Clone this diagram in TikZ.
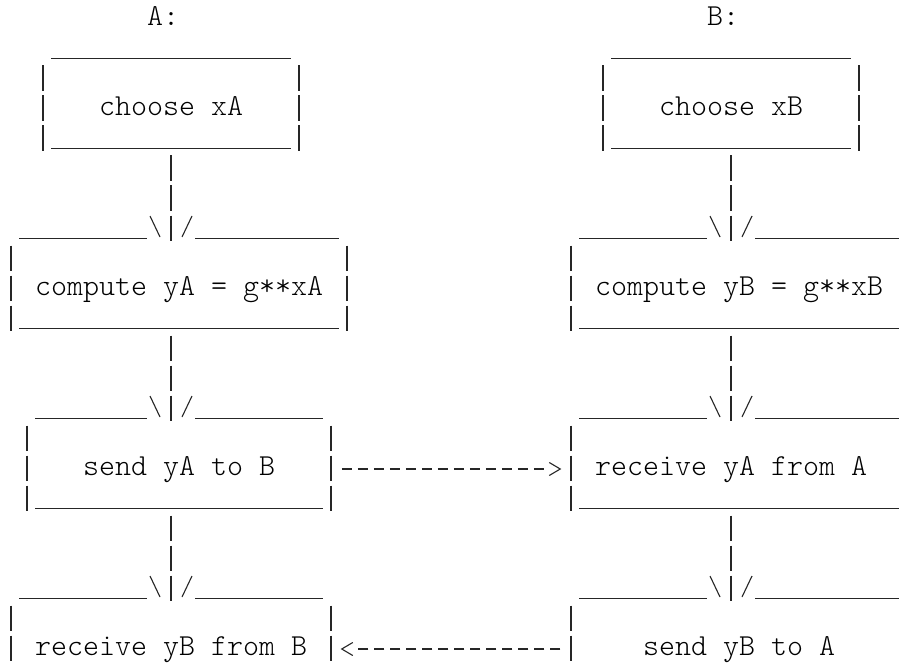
\documentclass[tikz,border=0pt]{standalone}
\usepackage{fontspec}
\newfontfamily\lightmono{Latin Modern Mono Light}
\newcommand\Lx[1]{(16*(#1)+3)}
\newcommand\Rx[1]{(16*(#1)+19)}
\newcommand\Cx[1]{(16*(#1)+11)}
\newcommand\Uy[1]{(28.5+30*(#1))}
\newcommand\By[1]{(25.5+30*(#1))}
\newcommand\Pt[1]{(5.5+30*(#1))}
\newcommand\Pb[1]{(31+30*(#1))}
\newcommand\asciifont{\lightmono\fontsize{30.48pt}{36pt}\selectfont}
\newcommand\asciiU[3]{\draw[ln] ({\Lx{#1}},{\Uy{#3}}) -- ({\Rx{#2}},{\Uy{#3}});}
\newcommand\asciiP[3]{\draw[pipe] ({\Cx{#1}},{\Pt{#2}}) -- ({\Cx{#1}},{\Pb{#3}});}
\begin{document}
\begin{tikzpicture}[x=1pt,y=-1pt,
  ln/.style={line width=1.1pt,draw=black!85},
  pipe/.style={ln,dash pattern=on 25.5pt off 4.5pt},
  dsh/.style={ln,dash pattern=on 10.5pt off 5.5pt},
  lbl/.style={inner sep=0pt,anchor=base west,font=\asciifont},
  vhead/.pic={\draw[ln] (-21,-25) -- (-11,-4); \draw[ln] (11,-4) -- (21,-25);}
]
\fill[white] (0,0) rectangle (899,663);
\useasboundingbox (0,0) rectangle (899,663);

% headings and box texts
\node[lbl] (hA) at ({\Lx{9}},{\By{0}}) {A:};
\node[lbl] (hB) at ({\Lx{44}},{\By{0}}) {B:};
\node[lbl] (chooseA) at ({\Lx{6}},{\By{3}}) {choose xA};
\node[lbl] (chooseB) at ({\Lx{41}},{\By{3}}) {choose xB};
\node[lbl] (computeA) at ({\Lx{2}},{\By{9}}) {compute yA = g**xA};
\node[lbl] (computeB) at ({\Lx{37}},{\By{9}}) {compute yB = g**xB};
\node[lbl] (sendA) at ({\Lx{5}},{\By{15}}) {send yA to B};
\node[lbl] (recvA) at ({\Lx{37}},{\By{15}}) {receive yA from A};
\node[lbl] (recvB) at ({\Lx{2}},{\By{21}}) {receive yB from B};
\node[lbl] (sendB) at ({\Lx{40}},{\By{21}}) {send yB to A};

% box frames, A side
\asciiU{3}{17}{1} \asciiU{3}{17}{4} \asciiP{2}{2}{4} \asciiP{18}{2}{4}
\asciiU{1}{8}{7} \asciiU{12}{20}{7} \asciiU{1}{20}{10} \asciiP{0}{8}{10} \asciiP{21}{8}{10}
\asciiU{2}{8}{13} \asciiU{12}{19}{13} \asciiU{2}{19}{16} \asciiP{1}{14}{16} \asciiP{20}{14}{16}
\asciiU{1}{8}{19} \asciiU{12}{19}{19} \asciiP{0}{20}{21} \asciiP{20}{20}{21}
% box frames, B side
\asciiU{38}{52}{1} \asciiU{38}{52}{4} \asciiP{37}{2}{4} \asciiP{53}{2}{4}
\asciiU{36}{43}{7} \asciiU{47}{55}{7} \asciiU{36}{55}{10} \asciiP{35}{8}{10}
\asciiU{36}{43}{13} \asciiU{47}{55}{13} \asciiU{36}{55}{16} \asciiP{35}{14}{16}
\asciiU{36}{43}{19} \asciiU{47}{55}{19} \asciiP{35}{20}{21}

% connector ports
\coordinate (chooseA-out) at ({\Cx{10}},{\Pt{5}});
\coordinate (computeA-in) at ({\Cx{10}},{\Pb{7}});
\coordinate (computeA-out) at ({\Cx{10}},{\Pt{11}});
\coordinate (sendA-in) at ({\Cx{10}},{\Pb{13}});
\coordinate (sendA-down) at ({\Cx{10}},{\Pt{17}});
\coordinate (recvB-in) at ({\Cx{10}},{\Pb{19}});
\coordinate (chooseB-out) at ({\Cx{45}},{\Pt{5}});
\coordinate (computeB-in) at ({\Cx{45}},{\Pb{7}});
\coordinate (computeB-out) at ({\Cx{45}},{\Pt{11}});
\coordinate (recvA-in) at ({\Cx{45}},{\Pb{13}});
\coordinate (recvA-out) at ({\Cx{45}},{\Pt{17}});
\coordinate (sendB-in) at ({\Cx{45}},{\Pb{19}});
\coordinate (sendA-right) at ({\Lx{21}+2.75},{\By{15}-6.5});
\coordinate (recvA-left) at ({\Lx{34}+13.25},{\By{15}-6.5});
\coordinate (sendB-left) at ({\Lx{34}+13.25},{\By{21}-6.5});
\coordinate (recvB-right) at ({\Lx{21}+2.75},{\By{21}-6.5});

% vertical connectors with \|/ heads
\foreach \s/\t in {chooseA-out/computeA-in, computeA-out/sendA-in, sendA-down/recvB-in,
                   chooseB-out/computeB-in, computeB-out/recvA-in, recvA-out/sendB-in}{
  \draw[pipe] (\s) -- (\t);
  \pic at (\t) {vhead};
}

% horizontal dashed messages
\draw[dsh] (sendA-right) -- ([xshift=-16pt]recvA-left);
\draw[ln] ([shift={(-11,-6.5)}]recvA-left) -- (recvA-left) -- ([shift={(-11,6.5)}]recvA-left);
\draw[dsh] (sendB-left) -- ([xshift=16pt]recvB-right);
\draw[ln] ([shift={(11,-6.5)}]recvB-right) -- (recvB-right) -- ([shift={(11,6.5)}]recvB-right);
\end{tikzpicture}
\end{document}
